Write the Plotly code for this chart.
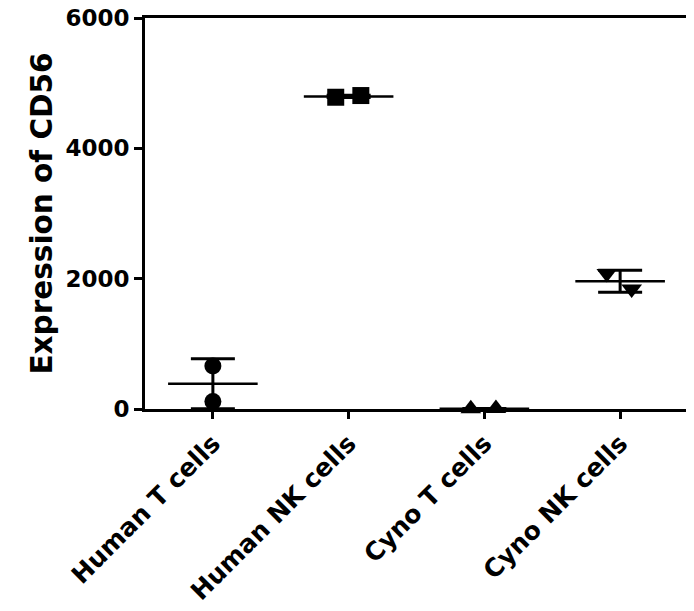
import numpy as np
import plotly.graph_objects as go

# ---- data ----
categories = ["Human T cells", "Human NK cells", "Cyno T cells", "Cyno NK cells"]
human_t = [660, 115]
human_nk = [4784, 4810]
cyno_t = [3, 6]
cyno_nk = [2080, 1840]
y_ticks = [0, 2000, 4000, 6000]

groups = [human_t, human_nk, cyno_t, cyno_nk]
symbols = ["circle", "square", "triangle-up", "triangle-down"]
# horizontal scatter (jitter) of the replicate points, in category units
jitter = [[0.0, 0.0], [-0.095, 0.09], [-0.10, 0.085], [-0.098, 0.085]]
msizes = [17, 17, 18, 18]

FONT = "DejaVu Sans"
fig = go.Figure()

for i, (vals, sym) in enumerate(zip(groups, symbols)):
    vals = np.array(vals, dtype=float)
    m = vals.mean()
    sd = vals.std(ddof=1)
    # mean line
    fig.add_trace(go.Scatter(
        x=[i - 0.33, i + 0.33], y=[m, m], mode="lines",
        line=dict(color="black", width=2.5), showlegend=False,
        hoverinfo="skip", cliponaxis=False))
    # SD error bar
    fig.add_trace(go.Scatter(
        x=[i], y=[m], mode="markers", marker=dict(size=1, opacity=0),
        error_y=dict(type="data", array=[sd], visible=True, color="black",
                     thickness=3, width=22),
        showlegend=False, hoverinfo="skip", cliponaxis=False))
    # points
    fig.add_trace(go.Scatter(
        x=[i + d for d in jitter[i]], y=vals, mode="markers",
        marker=dict(symbol=sym, size=msizes[i], color="black",
                    line=dict(width=0)),
        showlegend=False, cliponaxis=False))

# the page body adds an 8px offset, so the figure is 8px smaller on each side
fig.update_layout(
    width=686, height=603,
    margin=dict(l=137, r=6, t=10, b=202),
    plot_bgcolor="white", paper_bgcolor="white",
    font=dict(family=FONT, color="black"),
)
fig.update_xaxes(
    range=[-0.5, 3.5], tickmode="array", tickvals=list(range(len(categories))),
    ticktext=categories, tickangle=-45, automargin=False,
    ticklabeloverflow="allow",
    tickfont=dict(family=FONT, size=25, weight="bold", color="black"),
    showline=True, linecolor="black", linewidth=3, mirror=True,
    ticks="outside", ticklen=7, tickwidth=2.5, tickcolor="black",
    showgrid=False, zeroline=False,
)
fig.update_yaxes(
    range=[0, 6000], tickmode="array", tickvals=y_ticks,
    ticktext=[str(v) for v in y_ticks], automargin=False,
    ticklabeloverflow="allow",
    tickfont=dict(family=FONT, size=23, weight="bold", color="black"),
    title=dict(text="Expression of CD56", standoff=5,
               font=dict(family=FONT, size=29.5, weight="bold", color="black")),
    showline=True, linecolor="black", linewidth=3, mirror=True,
    ticks="outside", ticklen=8, tickwidth=2.5, tickcolor="black",
    showgrid=False, zeroline=False,
)

fig.write_html("out.html")
